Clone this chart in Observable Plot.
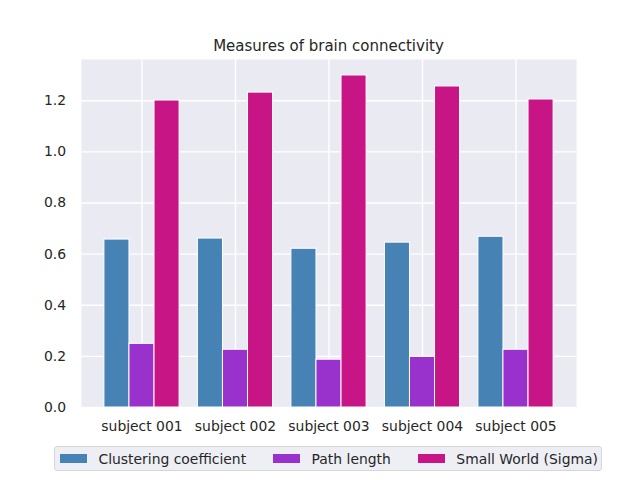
<!DOCTYPE html>
<html>
<head>
<meta charset="utf-8">
<script src="https://cdn.jsdelivr.net/npm/d3@7"></script>
<script src="https://cdn.jsdelivr.net/npm/@observablehq/plot@0.6"></script>
<style>
  body { margin: 0; background: #fff; font-family: "DejaVu Sans", sans-serif; color: #262626; }
  #wrap { width: 640px; position: relative; }
  #title { box-sizing: border-box; height: 59px; padding-top: 36.5px; padding-left: 81px; width: 576px;
           text-align: center; font-size: 15px; line-height: 18px; white-space: nowrap; }
  #legend { box-sizing: border-box; margin-top: 7px; margin-left: 54px; width: 548px; height: 25px;
            background: #EEEEF5; border: 1px solid #D6D6D6; border-radius: 3px;
            display: flex; align-items: center; padding-left: 5px; font-size: 13.9px; gap: 27px; }
  .item { display: flex; align-items: center; gap: 11.5px; white-space: nowrap; }
  .sw { width: 27px; height: 9px; }
  svg { display: block; }
</style>
</head>
<body>
<div id="wrap">
  <div id="title">Measures of brain connectivity</div>
  <div id="chart"></div>
  <div id="legend"></div>
</div>
<script>
const subjects = ["subject 001", "subject 002", "subject 003", "subject 004", "subject 005"];
const measures = ["Clustering coefficient", "Path length", "Small World (Sigma)"];
const clustering = [0.657, 0.661, 0.621, 0.645, 0.668];
const pathLength = [0.249, 0.226, 0.187, 0.198, 0.226];
const sigma = [1.201, 1.232, 1.299, 1.256, 1.205];
const colors = ["steelblue", "darkorchid", "mediumvioletred"];
const yTicks = [0, 0.2, 0.4, 0.6, 0.8, 1.0, 1.2];
const yMax = 1.3615;

const series = [clustering, pathLength, sigma];
const table = [];
measures.forEach((m, j) => subjects.forEach((s, i) => table.push({subject: s, measure: m, value: series[j][i]})));

const W = 640, H = 380, mL = 81, mR = 64, mT = 0, mB = 32;
const padInner = 0.732, padOuter = 0.513;
const step = (W - mL - mR) / (subjects.length - padInner + 2 * padOuter);
const bw = step * (1 - padInner);

const barMarks = measures.map((m, j) =>
  Plot.barY(table.filter(d => d.measure === m), {
    x: "subject", y: "value", fill: colors[j], stroke: "white", strokeWidth: 1,
    dx: (j - 1) * bw
  })
);

const chart = Plot.plot({
  width: W, height: H,
  marginLeft: mL, marginRight: mR, marginTop: mT, marginBottom: mB,
  style: {fontFamily: "DejaVu Sans", fontSize: "13.9px", color: "#262626", background: "white"},
  x: {type: "band", domain: subjects, paddingInner: padInner, paddingOuter: padOuter, round: false, label: null},
  y: {domain: [0, yMax], label: null},
  marks: [
    Plot.frame({fill: "#EAEAF2", stroke: null}),
    Plot.gridY(yTicks, {stroke: "white", strokeOpacity: 1, strokeWidth: 1.4}),
    Plot.gridX({stroke: "white", strokeOpacity: 1, strokeWidth: 1.4}),
    ...barMarks,
    Plot.axisY(yTicks, {tickSize: 0, tickPadding: 15.5, tickFormat: d3.format(".1f"), label: null}),
    Plot.axisX({tickSize: 0, tickPadding: 14, label: null})
  ]
});
document.getElementById("chart").appendChild(chart);

const legend = document.getElementById("legend");
measures.forEach((m, j) => {
  const it = document.createElement("div");
  it.className = "item";
  const sw = document.createElement("div");
  sw.className = "sw";
  sw.style.background = colors[j];
  const tx = document.createElement("span");
  tx.textContent = m;
  it.appendChild(sw); it.appendChild(tx);
  legend.appendChild(it);
});
</script>
</body>
</html>
